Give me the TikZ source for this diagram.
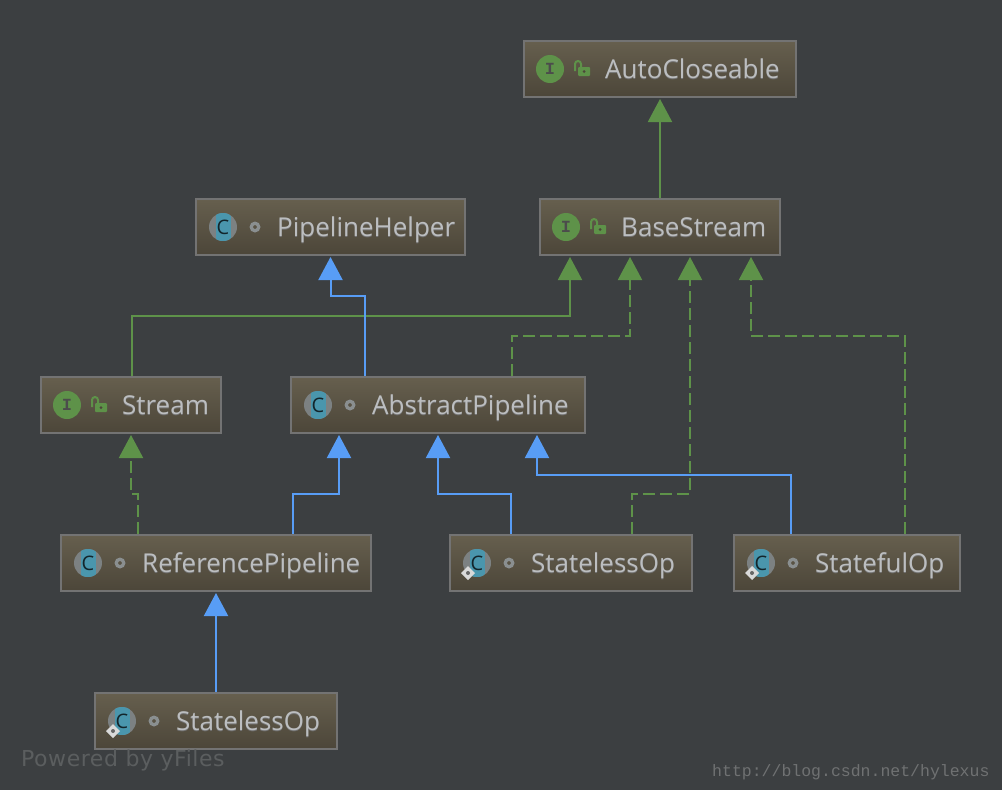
\documentclass[tikz,border=0pt]{standalone}
\usepackage{fontspec}
\setmainfont{Open Sans}
\newfontfamily\monofont{Liberation Mono}
\newfontfamily\markfont[LetterSpace=2.5]{DejaVu Sans}
\usetikzlibrary{arrows.meta,calc}
\definecolor{canvasgray}{HTML}{3C3F41}
\definecolor{boxtop}{HTML}{665F4E}
\definecolor{boxbottom}{HTML}{4C4639}
\definecolor{boxedge}{HTML}{737373}
\definecolor{labelgray}{HTML}{BCBEC0}
\definecolor{ifacegreen}{HTML}{5E9249}
\definecolor{classblue}{HTML}{589DF6}
\definecolor{classteal}{HTML}{4A96AD}
\definecolor{ringgray}{HTML}{8A8F90}
% label text with its soft dark cast below
\newcommand{\castlabel}[1]{\rlap{\raisebox{-1.2pt}{\color{black!55}#1}}#1}
\tikzset{
  umlbox/.style={draw=boxedge, line width=2pt, top color=boxtop, bottom color=boxbottom,
    minimum height=56pt, inner sep=0pt},
  umllabel/.style={anchor=base west, inner sep=0pt, text=labelgray,
    font=\fontsize{26}{30}\selectfont},
  extends/.style={-{Triangle[length=23pt,width=24pt]}, line width=2pt, shorten >=1pt},
  implements/.style={extends, dash pattern=on 12pt off 5pt},
  ifaceicon/.pic={
    \fill[ifacegreen] (0,0) circle (14);
    \node[font=\monofont\bfseries\fontsize{17}{17}\selectfont, text=black!70, inner sep=0pt] (-letter) at (0,0) {I};
    % open padlock
    \draw[ifacegreen, line width=2pt] (25,2) -- (25,-5) arc (180:360:3) -- (31,-2);
    \fill[ifacegreen, rounded corners=1pt] (28,-2) rectangle (40,7);
    \fill[boxbottom] (34,2.5) circle (1.5);
  },
  classicon/.pic={
    \fill[ringgray!90!black] (0,0) circle (14);
    \begin{scope}
      \clip (0,0) circle (14);
      \fill[classteal] (-7.5,-14) rectangle (7.5,14);
    \end{scope}
    \node[font=\fontsize{20}{20}\selectfont, text=black!75!classteal, inner sep=0pt] (-letter) at (0,0) {C};
    % visibility dot
    \fill[ringgray, even odd rule] (32,0) circle (5.5) (32,0) circle (2);
  },
  abstractmark/.pic={
    \fill[white!85!black] (-9,3) -- (-2,10) -- (-9,17) -- (-16,10) -- cycle;
    \fill[black!60] (-9,10) circle (2);
  },
}
\begin{document}
\begin{tikzpicture}[x=1pt, y=-1pt]
  \fill[canvasgray] (0,0) rectangle (1002,790);

  % === Interfaces ===
  \node[umlbox, minimum width=272pt] (autocloseable) at (660,69) {};
  \pic (autoicon) at ([xshift=27pt]autocloseable.west) {ifaceicon};
  \node[umllabel] (autotext) at ([shift={(82,9)}]autocloseable.west) {\castlabel{AutoCloseable}};

  \node[umlbox, minimum width=240pt] (basestream) at (660,227) {};
  \pic (baseicon) at ([xshift=27pt]basestream.west) {ifaceicon};
  \node[umllabel] (basetext) at ([shift={(82,9)}]basestream.west) {\castlabel{BaseStream}};

  \node[umlbox, minimum width=180pt] (stream) at (131,405) {};
  \pic (streamicon) at ([xshift=27pt]stream.west) {ifaceicon};
  \node[umllabel] (streamtext) at ([shift={(82,9)}]stream.west) {\castlabel{Stream}};

  % === Classes ===
  \node[umlbox, minimum width=269pt] (helper) at (330.5,227) {};
  \pic (helpericon) at ([xshift=28pt]helper.west) {classicon};
  \node[umllabel] (helpertext) at ([shift={(82,9)}]helper.west) {\castlabel{PipelineHelper}};

  \node[umlbox, minimum width=294pt] (abstract) at (438,405) {};
  \pic (abstracticon) at ([xshift=28pt]abstract.west) {classicon};
  \node[umllabel] (abstracttext) at ([shift={(82,9)}]abstract.west) {\castlabel{AbstractPipeline}};

  \node[umlbox, minimum width=310pt] (reference) at (216,563) {};
  \pic (referenceicon) at ([xshift=28pt]reference.west) {classicon};
  \node[umllabel] (referencetext) at ([shift={(82,9)}]reference.west) {\castlabel{ReferencePipeline}};

  \node[umlbox, minimum width=242pt] (stateless) at (571,563) {};
  \pic (statelessicon) at ([xshift=28pt]stateless.west) {classicon};
  \pic (statelessmark) at ([xshift=28pt]stateless.west) {abstractmark};
  \node[umllabel] (statelesstext) at ([shift={(82,9)}]stateless.west) {\castlabel{StatelessOp}};

  \node[umlbox, minimum width=226pt] (stateful) at (847,563) {};
  \pic (statefulicon) at ([xshift=28pt]stateful.west) {classicon};
  \pic (statefulmark) at ([xshift=28pt]stateful.west) {abstractmark};
  \node[umllabel] (statefultext) at ([shift={(82,9)}]stateful.west) {\castlabel{StatefulOp}};

  \node[umlbox, minimum width=242pt] (refstateless) at (216,721) {};
  \pic (refstatelessicon) at ([xshift=28pt]refstateless.west) {classicon};
  \pic (refstatelessmark) at ([xshift=28pt]refstateless.west) {abstractmark};
  \node[umllabel] (refstatelesstext) at ([shift={(82,9)}]refstateless.west) {\castlabel{StatelessOp}};

  % === Green: interface inheritance and implementation ===
  \draw[extends, ifacegreen] (basestream.north) -- (autocloseable.south);
  \draw[extends, ifacegreen] ([xshift=1pt]stream.north) -- ++(0,-60) -| ([xshift=-90pt]basestream.south);
  \draw[implements, ifacegreen] ([xshift=74pt]abstract.north) -- ++(0,-40) -| ([xshift=-30pt]basestream.south);
  \draw[implements, ifacegreen] ([xshift=61pt]stateless.north) -- ++(0,-40) -| ([xshift=30pt]basestream.south);
  \draw[implements, ifacegreen] ([xshift=58pt]stateful.north) -- ++(0,-198) -| ([xshift=91pt]basestream.south);
  \draw[implements, ifacegreen] ([xshift=-78pt]reference.north) -- ++(0,-40) -| (stream.south);

  % === Blue: class inheritance ===
  \draw[extends, classblue] ([xshift=-73pt]abstract.north) -- ++(0,-80) -| (helper.south);
  \draw[extends, classblue] ([xshift=77pt]reference.north) -- ++(0,-40) -| ([xshift=-99pt]abstract.south);
  \draw[extends, classblue] ([xshift=-60pt]stateless.north) -- ++(0,-40) -| (abstract.south);
  \draw[extends, classblue] ([xshift=-56pt]stateful.north) -- ++(0,-59) -| ([xshift=99pt]abstract.south);
  \draw[extends, classblue] (refstateless.north) -- (reference.south);

  % === Footer marks ===
  \node[anchor=base west, inner sep=0pt, text=white!16!canvasgray, font=\markfont\fontsize{22}{24}\selectfont] (poweredby) at (21,766) {Powered by yFiles};
  \node[anchor=base west, inner sep=0pt, text=white!26!canvasgray, font=\monofont\fontsize{16.5}{18}\selectfont] (bloglink) at (712,776) {http://blog.csdn.net/hylexus};
\end{tikzpicture}
\end{document}
